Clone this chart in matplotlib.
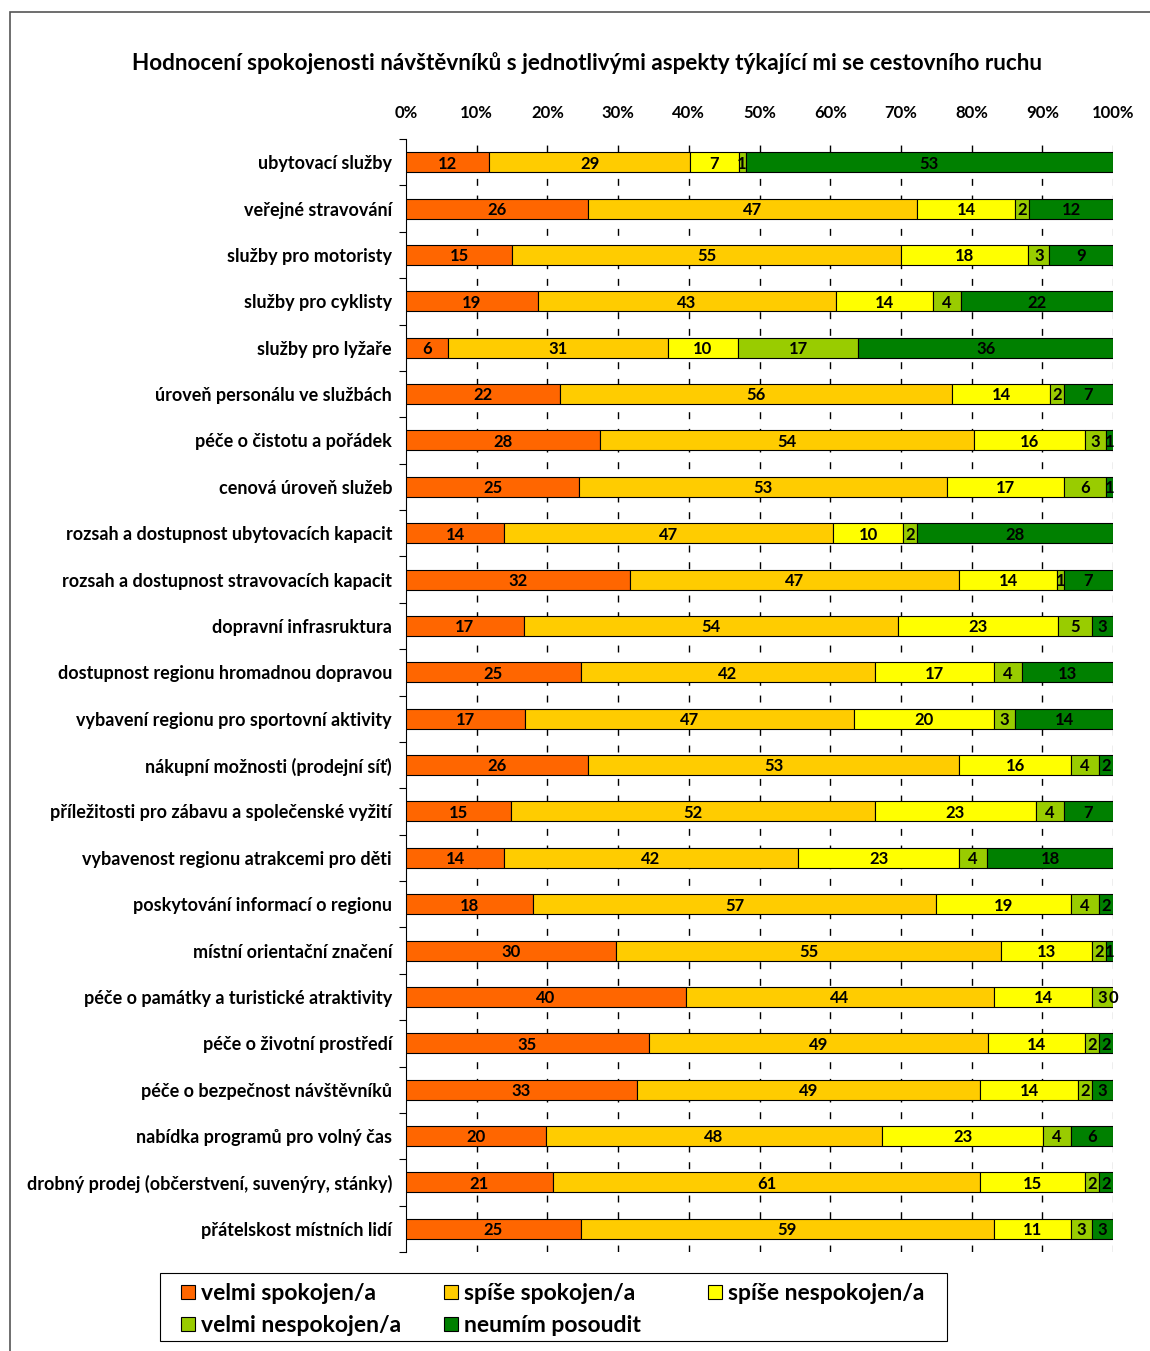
import matplotlib
matplotlib.use("Agg")
import matplotlib.pyplot as plt
import numpy as np
from matplotlib.patches import Rectangle

plt.rcParams['font.family'] = ['Lato', 'DejaVu Sans']

categories = [
    "ubytovací služby",
    "veřejné stravování",
    "služby pro motoristy",
    "služby pro cyklisty",
    "služby pro lyžaře",
    "úroveň personálu ve službách",
    "péče o čistotu a pořádek",
    "cenová úroveň služeb",
    "rozsah a dostupnost ubytovacích kapacit",
    "rozsah a dostupnost stravovacích kapacit",
    "dopravní infrasruktura",
    "dostupnost regionu hromadnou dopravou",
    "vybavení regionu pro sportovní aktivity",
    "nákupní možnosti (prodejní síť)",
    "příležitosti pro zábavu a společenské vyžití",
    "vybavenost regionu atrakcemi pro děti",
    "poskytování informací o regionu",
    "místní orientační značení",
    "péče o památky a turistické atraktivity",
    "péče o životní prostředí",
    "péče o bezpečnost návštěvníků",
    "nabídka programů pro volný čas",
    "drobný prodej (občerstvení, suvenýry, stánky)",
    "přátelskost místních lidí",
]

series_names = ["velmi spokojen/a", "spíše spokojen/a", "spíše nespokojen/a",
                "velmi nespokojen/a", "neumím posoudit"]

velmi_spokojen = [12, 26, 15, 19, 6, 22, 28, 25, 14, 32, 17, 25, 17, 26, 15, 14, 18, 30, 40, 35, 33, 20, 21, 25]
spise_spokojen = [29, 47, 55, 43, 31, 56, 54, 53, 47, 47, 54, 42, 47, 53, 52, 42, 57, 55, 44, 49, 49, 48, 61, 59]
spise_nespokojen = [7, 14, 18, 14, 10, 14, 16, 17, 10, 14, 23, 17, 20, 16, 23, 23, 19, 13, 14, 14, 14, 23, 15, 11]
velmi_nespokojen = [1, 2, 3, 4, 17, 2, 3, 6, 2, 1, 5, 4, 3, 4, 4, 4, 4, 2, 3, 2, 2, 4, 2, 3]
neumim = [53, 12, 9, 22, 36, 7, 1, 1, 28, 7, 3, 13, 14, 2, 7, 18, 2, 1, 0, 2, 3, 6, 2, 3]

xtick_labels = ["0%", "10%", "20%", "30%", "40%", "50%", "60%", "70%", "80%", "90%", "100%"]

colors = ["#FF6600", "#FFCC00", "#FFFF00", "#99CC00", "#008000"]

series = np.array([velmi_spokojen, spise_spokojen, spise_nespokojen, velmi_nespokojen, neumim], dtype=float)
totals = series.sum(axis=0)
shares = series / totals

W, H = 1150, 1351
fig = plt.figure(figsize=(W / 100, H / 100), dpi=100)
ax = fig.add_axes([406/W, 1-1252/H, 707/W, 1113/H])

y = np.arange(len(categories))
left = np.zeros(len(categories))
for i, name in enumerate(series_names):
    ax.barh(y, shares[i], left=left, height=0.43, color=colors[i],
            edgecolor="black", linewidth=0.8, label=name, zorder=3)
    for j in range(len(categories)):
        ax.text(left[j] + shares[i][j] / 2, y[j] + 0.03, f"{int(series[i][j])}",
                ha="center", va="center", fontsize=12, fontweight="bold",
                color="black", zorder=4)
    left += shares[i]

ax.set_ylim(len(categories) - 0.5, -0.5)
ax.set_xlim(0, 1)
ax.xaxis.tick_top()
ax.set_xticks(np.linspace(0, 1, 11))
ax.set_xticklabels(xtick_labels, fontsize=12, fontweight="bold")
ax.tick_params(axis="x", length=0, pad=13)
ax.set_yticks(y)
ax.set_yticklabels(categories, fontsize=13.0, fontweight="bold")
ax.set_yticks(np.arange(len(categories) + 1) - 0.5, minor=True)
ax.tick_params(axis="y", which="major", length=0, pad=10)
ax.tick_params(axis="y", which="minor", length=5, width=0.8, direction="out")

for k in range(1, 11):
    ax.axvline(k / 10, color="black" if k < 10 else "#aaaaaa", linestyle=(0, (5, 7)),
               linewidth=1, zorder=1)

for s in ["top", "right", "bottom"]:
    ax.spines[s].set_visible(False)
ax.spines["left"].set_linewidth(0.8)

fig.text(587/W, 1 - 63/H,
         "Hodnocení spokojenosti návštěvníků s jednotlivými aspekty týkající mi se cestovního ruchu",
         ha="center", va="center", fontsize=16.2, fontweight="bold")

# legend (manual layout to match the reference's row-wise arrangement)
fig.patches.append(Rectangle((160/W, 1 - 1341/H), (947-160)/W, (1341-1273)/H,
                             transform=fig.transFigure, fill=False,
                             edgecolor="black", linewidth=0.8))
legend_pos = [(181, 1292), (444, 1292), (708, 1292), (181, 1324), (444, 1324)]
sq = 14
for k, (px, py) in enumerate(legend_pos):
    fig.patches.append(Rectangle((px/W, 1 - (py + sq/2)/H), sq/W, sq/H,
                                 transform=fig.transFigure, facecolor=colors[k],
                                 edgecolor="black", linewidth=0.8))
    fig.text((px + sq + 6)/W, 1 - (py + 1)/H, series_names[k], ha="left",
             va="center", fontsize=16.5, fontweight="bold")

fig.patches.append(Rectangle((10/W, -0.1), 1.2, 1 - 12/H + 0.1,
                             transform=fig.transFigure, fill=False,
                             edgecolor="#555555", linewidth=1.2))

fig.savefig("out.png", dpi=100)
